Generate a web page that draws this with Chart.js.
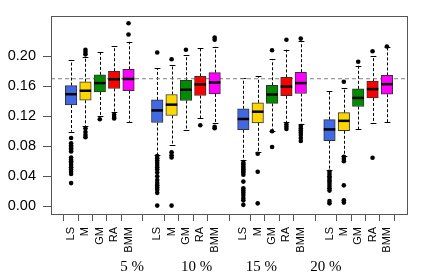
<!DOCTYPE html>
<html>
<head>
<meta charset="utf-8">
<script src="https://cdn.jsdelivr.net/npm/chart.js@4.4.1/dist/chart.umd.min.js"></script>
<style>
  html, body { margin: 0; padding: 0; background: #fff; }
  #wrap { width: 422px; height: 273px; }
</style>
</head>
<body>
<div id="wrap"><canvas id="chart"></canvas></div>
<script>
const groups = ['5 %', '10 %', '15 %', '20 %']
const methods = ['LS', 'M', 'GM', 'RA', 'BMM']
const yTicks = [0.00, 0.04, 0.08, 0.12, 0.16, 0.20]
const refLine = 0.17

// one entry per box: 5 % (LS..BMM), 10 %, 15 %, 20 %
const whiskerLow = [
    0.0995, 0.107, 0.1206, 0.1253, 0.1126,
    0.0682, 0.0817, 0.102, 0.1177, 0.1105,
    0.0613, 0.073, 0.1007, 0.1121, 0.1101,
    0.049, 0.0677, 0.1025, 0.1105, 0.1121
]
const q1 = [
    0.135, 0.1413, 0.1524, 0.157, 0.154,
    0.1117, 0.121, 0.141, 0.1477, 0.1498,
    0.102, 0.1113, 0.1371, 0.1473, 0.1503,
    0.0876, 0.1007, 0.133, 0.1444, 0.1494
]
const median = [
    0.1494, 0.154, 0.1642, 0.1693, 0.1697,
    0.1278, 0.1355, 0.1553, 0.1625, 0.1651,
    0.1164, 0.1261, 0.149, 0.1596, 0.1642,
    0.1025, 0.1139, 0.1444, 0.1562, 0.1628
]
const q3 = [
    0.1609, 0.166, 0.1752, 0.180, 0.1825,
    0.1418, 0.149, 0.168, 0.1731, 0.1782,
    0.130, 0.138, 0.1613, 0.1718, 0.1787,
    0.1156, 0.1248, 0.1566, 0.1668, 0.1744
]
const whiskerHigh = [
    0.1947, 0.1994, 0.2053, 0.2133, 0.2193,
    0.1837, 0.1888, 0.201, 0.2112, 0.2125,
    0.1705, 0.1735, 0.196, 0.2087, 0.2205,
    0.154, 0.1575, 0.1875, 0.2002, 0.2117
]
const outliers = [
    [0.091, 0.084, 0.081, 0.079, 0.077, 0.075, 0.073, 0.065, 0.062, 0.060, 0.058, 0.055, 0.052, 0.049, 0.046, 0.043, 0.031],
    [0.2087, 0.2055, 0.2025, 0.104, 0.099, 0.095, 0.092],
    [0.116],
    [0.122, 0.119, 0.117],
    [0.244, 0.229],

    [0.205, 0.067, 0.064, 0.061, 0.058, 0.055, 0.052, 0.049, 0.045, 0.040, 0.035, 0.031, 0.028, 0.025, 0.022, 0.018, 0.001],
    [0.196, 0.072, 0.068, 0.065, 0.001],
    [0.2087],
    [0.108],
    [0.225, 0.222, 0.106, 0.104],

    [0.058, 0.056, 0.053, 0.051, 0.049, 0.047, 0.045, 0.042, 0.033, 0.024, 0.021, 0.018, 0.015, 0.011, 0.008, 0.002],
    [0.070, 0.046, 0.004],
    [0.208, 0.100, 0.079],
    [0.222, 0.109, 0.106, 0.103],
    [0.2235, 0.107, 0.104, 0.101, 0.098, 0.095, 0.091, 0.087],

    [0.046, 0.043, 0.040, 0.038, 0.035, 0.033, 0.030, 0.027, 0.024, 0.021, 0.007, 0.004],
    [0.166, 0.066, 0.063, 0.060, 0.028, 0.008, 0.005],
    [0.1926],
    [0.2066, 0.0648],
    [0.213]
]

const methodColors = ['#4169E1', '#FFD700', '#008B00', '#FF0000', '#FF00FF']

// box i sits at group * 6 + method + 1 on the x scale
const positions = median.map((_, i) => Math.floor(i / 5) * 6 + (i % 5) + 1)
const groupCenters = groups.map((_, g) => g * 6 + 3)

const boxData = positions.map((p, i) => ({ x: p, y: [q1[i], q3[i]] }))
const outlierData = []
outliers.forEach((list, i) => list.forEach(v => outlierData.push({ x: positions[i], y: v })))

// whiskers behind the boxes, medians on top
const boxParts = {
    id: 'boxParts',
    beforeDatasetsDraw(chart) {
        const { ctx, scales: { y } } = chart
        const bars = chart.getDatasetMeta(1).data
        ctx.save()
        ctx.strokeStyle = '#000'
        ctx.lineWidth = 1
        bars.forEach((el, i) => {
            const cx = Math.round(el.x) + 0.5
            const cap = el.width / 4
            ctx.setLineDash([3, 2])
            ctx.beginPath()
            ctx.moveTo(cx, y.getPixelForValue(q3[i]))
            ctx.lineTo(cx, y.getPixelForValue(whiskerHigh[i]))
            ctx.moveTo(cx, y.getPixelForValue(q1[i]))
            ctx.lineTo(cx, y.getPixelForValue(whiskerLow[i]))
            ctx.stroke()
            ctx.setLineDash([])
            ctx.beginPath()
            const hi = Math.round(y.getPixelForValue(whiskerHigh[i])) + 0.5
            const lo = Math.round(y.getPixelForValue(whiskerLow[i])) + 0.5
            ctx.moveTo(cx - cap, hi)
            ctx.lineTo(cx + cap, hi)
            ctx.moveTo(cx - cap, lo)
            ctx.lineTo(cx + cap, lo)
            ctx.stroke()
        })
        ctx.restore()
    },
    afterDatasetsDraw(chart) {
        const { ctx, scales: { y } } = chart
        const bars = chart.getDatasetMeta(1).data
        ctx.save()
        ctx.strokeStyle = '#000'
        ctx.lineWidth = 2.5
        bars.forEach((el, i) => {
            const my = y.getPixelForValue(median[i])
            ctx.beginPath()
            ctx.moveTo(el.x - el.width / 2, my)
            ctx.lineTo(el.x + el.width / 2, my)
            ctx.stroke()
        })
        ctx.restore()
    },
    afterDraw(chart) {
        const { ctx, chartArea: a } = chart
        ctx.save()
        ctx.strokeStyle = '#555'
        ctx.lineWidth = 1
        ctx.strokeRect(Math.round(a.left) + 0.5, Math.round(a.top) + 0.5,
            Math.round(a.right - a.left), Math.round(a.bottom - a.top))
        ctx.restore()
    }
}

new Chart(document.getElementById('chart'), {
    type: 'bar',
    data: {
        datasets: [
            {
                type: 'line',
                data: [{ x: -0.4, y: refLine }, { x: 24.4, y: refLine }],
                borderColor: '#808080',
                borderWidth: 1,
                borderDash: [4, 3],
                pointRadius: 0,
                order: 3
            },
            {
                type: 'bar',
                data: boxData,
                backgroundColor: positions.map((_, i) => methodColors[i % 5]),
                borderColor: '#333',
                borderWidth: 1,
                borderSkipped: false,
                barThickness: 11.5,
                order: 2
            },
            {
                type: 'scatter',
                data: outlierData,
                backgroundColor: '#000',
                borderWidth: 0,
                pointRadius: 2.3,
                order: 1
            }
        ]
    },
    options: {
        responsive: true,
        maintainAspectRatio: false,
        animation: false,
        layout: { padding: { left: 0, top: 6, right: 15, bottom: 0 } },
        plugins: { legend: { display: false }, tooltip: { enabled: false } },
        scales: {
            x: {
                type: 'linear',
                min: -0.4,
                max: 24.4,
                offset: false,
                weight: 0,
                afterBuildTicks: s => { s.ticks = positions.map(v => ({ value: v })) },
                afterFit: s => { s.height = 40 },
                grid: { drawOnChartArea: false, drawTicks: true, tickLength: 7, color: '#555' },
                border: { display: false },
                ticks: {
                    autoSkip: false,
                    minRotation: 90,
                    maxRotation: 90,
                    padding: 6,
                    color: '#000',
                    font: { family: 'Liberation Sans', size: 11 },
                    callback: (v, i) => methods[i % 5]
                }
            },
            g: {
                type: 'linear',
                position: 'bottom',
                min: -0.4,
                max: 24.4,
                weight: 1,
                afterBuildTicks: s => { s.ticks = groupCenters.map(v => ({ value: v })) },
                afterFit: s => { s.height = 19 },
                grid: { display: false, drawTicks: false, tickLength: 0 },
                border: { display: false },
                ticks: {
                    autoSkip: false,
                    maxRotation: 0,
                    padding: 4,
                    color: '#000',
                    font: { family: 'Liberation Serif', size: 15 },
                    callback: (v, i) => groups[i]
                }
            },
            y: {
                min: -0.0102,
                max: 0.254,
                afterBuildTicks: s => { s.ticks = yTicks.map(v => ({ value: v })) },
                afterFit: s => { s.width = 51 },
                grid: { drawOnChartArea: false, drawTicks: true, tickLength: 8, color: '#555' },
                border: { display: false },
                ticks: {
                    padding: 7,
                    color: '#000',
                    font: { family: 'Liberation Sans', size: 14.5 },
                    callback: v => v.toFixed(2)
                }
            }
        }
    },
    plugins: [boxParts]
})
</script>
</body>
</html>
